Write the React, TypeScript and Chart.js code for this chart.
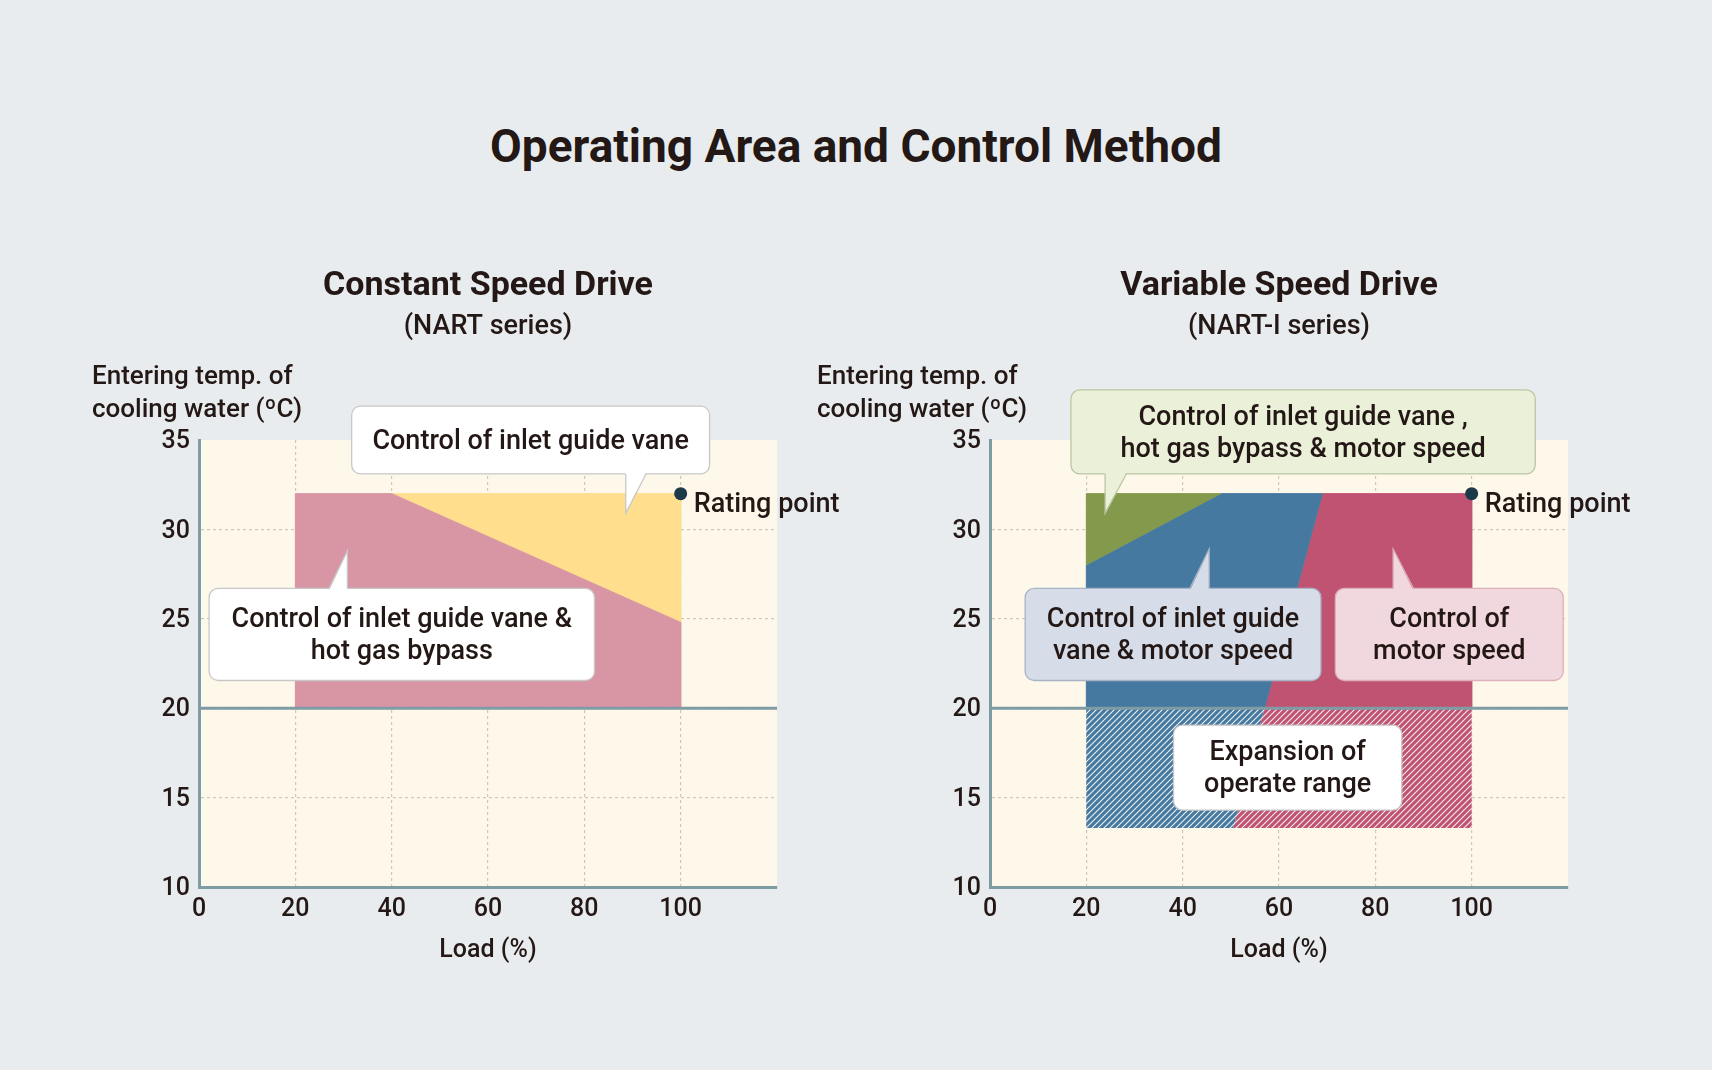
import React, { useEffect, useRef } from 'react';
import Chart from 'chart.js/auto';

const FONT = 'Roboto, "Noto Sans", sans-serif';
const INK = '#231815';
const AXIS = '#7f9ca4';
const GRID = '#cdc8b8';
const CREAM = '#fdf8ea';

// axes
const xTicks = [0, 20, 40, 60, 80, 100];
const yTicks = [10, 15, 20, 25, 30, 35];
const xMax = 120;
const baseTemp = 20;
const ratingPoint = [{ x: 100, y: 32 }];

type Pt = { x: number; y: number };

// constant speed drive (NART)
const csdVaneHotGas: Pt[] = [
  { x: 20, y: 20 }, { x: 20, y: 32 }, { x: 40, y: 32 }, { x: 100, y: 24.8 }, { x: 100, y: 20 },
];
const csdVane: Pt[] = [{ x: 40, y: 32 }, { x: 100, y: 32 }, { x: 100, y: 24.8 }];

// variable speed drive (NART-I)
const vsdAll: Pt[] = [{ x: 20, y: 28 }, { x: 20, y: 32 }, { x: 48, y: 32 }];
const vsdVaneMotor: Pt[] = [
  { x: 20, y: 20 }, { x: 20, y: 28 }, { x: 48, y: 32 }, { x: 69, y: 32 }, { x: 57, y: 20 },
];
const vsdMotor: Pt[] = [{ x: 69, y: 32 }, { x: 100, y: 32 }, { x: 100, y: 20 }, { x: 57, y: 20 }];
const vsdExpVane: Pt[] = [{ x: 20, y: 13.3 }, { x: 20, y: 20 }, { x: 57, y: 20 }, { x: 50.5, y: 13.3 }];
const vsdExpMotor: Pt[] = [{ x: 50.5, y: 13.3 }, { x: 57, y: 20 }, { x: 100, y: 20 }, { x: 100, y: 13.3 }];

type Callout = {
  lines: string[];
  x0: number; x1: number; top: number; bottom: number;
  fill: string; stroke: string;
  tail?: { from: number; to: number; tipX: number; tipY: number };
};

type Area = { data: Pt[]; color: string; hatch?: boolean };

type Panel = {
  title: string;
  subtitle: string;
  left: number;
  width: number;
  padding: { left: number; right: number };
  yLabelDx: number;
  areas: Area[];
  callouts: Callout[];
};

const panels: Panel[] = [
  {
    title: 'Constant Speed Drive',
    subtitle: '(NART series)',
    left: 0,
    width: 856,
    padding: { left: 139, right: 79 },
    yLabelDx: -107,
    areas: [
      { data: csdVaneHotGas, color: '#d895a4' },
      { data: csdVane, color: '#ffdf8e' },
    ],
    callouts: [
      {
        lines: ['Control of inlet guide vane'],
        x0: 31.7, x1: 106, top: 36.9, bottom: 33.1,
        fill: '#ffffff', stroke: '#c8c8c8',
        tail: { from: 88.6, to: 92.8, tipX: 88.6, tipY: 30.9 },
      },
      {
        lines: ['Control of inlet guide vane &', 'hot gas bypass'],
        x0: 2.1, x1: 82.1, top: 26.7, bottom: 21.55,
        fill: '#ffffff', stroke: '#c8c8c8',
        tail: { from: 27, to: 30.8, tipX: 30.8, tipY: 28.8 },
      },
    ],
  },
  {
    title: 'Variable Speed Drive',
    subtitle: '(NART-I series)',
    left: 780,
    width: 932,
    padding: { left: 150, right: 144 },
    yLabelDx: -173,
    areas: [
      { data: vsdAll, color: '#83994b' },
      { data: vsdVaneMotor, color: '#46799f' },
      { data: vsdMotor, color: '#c15372' },
      { data: vsdExpVane, color: '#46799f', hatch: true },
      { data: vsdExpMotor, color: '#c15372', hatch: true },
    ],
    callouts: [
      {
        lines: ['Control of inlet guide vane ,', 'hot gas bypass & motor speed'],
        x0: 16.8, x1: 113.2, top: 37.8, bottom: 33.1,
        fill: '#ebf0d8', stroke: '#bcc5a2',
        tail: { from: 23.9, to: 28.3, tipX: 23.9, tipY: 30.9 },
      },
      {
        lines: ['Control of inlet guide', 'vane & motor speed'],
        x0: 7.3, x1: 68.7, top: 26.7, bottom: 21.55,
        fill: '#d7dde8', stroke: '#a9b3c6',
        tail: { from: 41.5, to: 45.5, tipX: 45.5, tipY: 28.9 },
      },
      {
        lines: ['Control of', 'motor speed'],
        x0: 71.7, x1: 119, top: 26.7, bottom: 21.55,
        fill: '#f1d8de', stroke: '#dcb0ba',
        tail: { from: 83.7, to: 87.9, tipX: 83.7, tipY: 28.9 },
      },
      {
        lines: ['Expansion of', 'operate range'],
        x0: 38.1, x1: 85.5, top: 19.05, bottom: 14.3,
        fill: '#ffffff', stroke: '#c8c8c8',
      },
    ],
  },
];

function hatch(color: string) {
  const c = document.createElement('canvas');
  c.width = 6;
  c.height = 6;
  const g = c.getContext('2d')!;
  g.fillStyle = color;
  g.fillRect(0, 0, 6, 6);
  g.strokeStyle = 'rgba(255,255,255,0.9)';
  g.lineWidth = 1.1;
  g.beginPath();
  g.moveTo(0, 6); g.lineTo(6, 0);
  g.moveTo(-3, 3); g.lineTo(3, -3);
  g.moveTo(3, 9); g.lineTo(9, 3);
  g.stroke();
  return g.createPattern(c, 'repeat')!;
}

function drawCallout(chart: Chart, c: Callout) {
  const { ctx } = chart;
  const xs = chart.scales.x;
  const ys = chart.scales.y;
  const l = xs.getPixelForValue(c.x0);
  const r = xs.getPixelForValue(c.x1);
  const t = ys.getPixelForValue(c.top);
  const b = ys.getPixelForValue(c.bottom);
  ctx.save();
  ctx.beginPath();
  ctx.roundRect(l, t, r - l, b - t, 9);
  ctx.fillStyle = c.fill;
  ctx.fill();
  ctx.lineWidth = 1.3;
  ctx.strokeStyle = c.stroke;
  ctx.stroke();
  if (c.tail) {
    const a = xs.getPixelForValue(c.tail.from);
    const z = xs.getPixelForValue(c.tail.to);
    const tx = xs.getPixelForValue(c.tail.tipX);
    const ty = ys.getPixelForValue(c.tail.tipY);
    const edge = ty > b ? b : t;
    const inset = ty > b ? -2 : 2;
    ctx.beginPath();
    ctx.moveTo(a, edge + inset);
    ctx.lineTo(tx, ty);
    ctx.lineTo(z, edge + inset);
    ctx.closePath();
    ctx.fill();
    ctx.beginPath();
    ctx.moveTo(a, edge);
    ctx.lineTo(tx, ty);
    ctx.lineTo(z, edge);
    ctx.stroke();
  }
  ctx.fillStyle = INK;
  ctx.font = `500 27px ${FONT}`;
  ctx.textAlign = 'center';
  ctx.textBaseline = 'middle';
  const lh = 32;
  const cx = (l + r) / 2;
  const y0 = (t + b) / 2 + 2 - ((c.lines.length - 1) * lh) / 2;
  c.lines.forEach((s, i) => ctx.fillText(s, cx, y0 + i * lh));
  ctx.restore();
}

function makeDecor(p: Panel) {
  return {
    id: 'decor',
    beforeDraw(chart: Chart) {
      const { ctx, chartArea: a } = chart;
      ctx.save();
      ctx.fillStyle = CREAM;
      ctx.fillRect(a.left, a.top, a.right - a.left, a.bottom - a.top);
      ctx.restore();
    },
    afterDraw(chart: Chart) {
      const { ctx, chartArea: a } = chart;
      const cx = (a.left + a.right) / 2;
      ctx.save();
      ctx.fillStyle = INK;
      ctx.textAlign = 'center';
      ctx.textBaseline = 'middle';
      ctx.font = `700 34px ${FONT}`;
      ctx.fillText(p.title, cx, a.top - 154);
      ctx.font = `500 27px ${FONT}`;
      ctx.fillText(p.subtitle, cx, a.top - 113);
      ctx.textAlign = 'left';
      ctx.font = `500 26px ${FONT}`;
      ctx.fillText('Entering temp. of', a.left + p.yLabelDx, a.top - 63);
      ctx.fillText('cooling water (ºC)', a.left + p.yLabelDx, a.top - 30);

      // rating point label
      const meta = chart.getDatasetMeta(chart.data.datasets.length - 1);
      const pt = meta.data[0];
      ctx.font = `500 27px ${FONT}`;
      ctx.fillText('Rating point', pt.x + 13, pt.y + 12);
      ctx.restore();

      p.callouts.forEach((c) => drawCallout(chart, c));
    },
  };
}

function OperatingChart({ panel }: { panel: Panel }) {
  const ref = useRef<HTMLCanvasElement>(null);

  useEffect(() => {
    if (!ref.current) return;
    const tickFont = { family: FONT, size: 25, weight: 500 as const };
    const areaSets = panel.areas.map((ar) => ({
      data: ar.data,
      order: 2,
      showLine: true,
      fill: 'shape' as const,
      backgroundColor: ar.hatch ? hatch(ar.color) : ar.color,
      borderColor: ar.hatch ? 'rgba(0,0,0,0)' : ar.color,
      borderWidth: 1,
      pointRadius: 0,
      tension: 0,
    }));
    const chart = new Chart(ref.current, {
      type: 'scatter',
      data: {
        datasets: [
          ...areaSets,
          {
            data: [{ x: xTicks[0], y: baseTemp }, { x: xMax, y: baseTemp }],
            order: 1,
            showLine: true,
            fill: false,
            borderColor: AXIS,
            borderWidth: 3,
            pointRadius: 0,
          },
          {
            data: ratingPoint,
            order: 0,
            pointRadius: 6.5,
            pointBackgroundColor: '#1d3a4a',
            pointBorderWidth: 0,
          },
        ],
      } as any,
      options: {
        animation: false,
        responsive: true,
        maintainAspectRatio: false,
        layout: { padding: { left: panel.padding.left, right: panel.padding.right, top: 440, bottom: 103 } },
        plugins: { legend: { display: false }, tooltip: { enabled: false } },
        scales: {
          x: {
            type: 'linear',
            min: xTicks[0],
            max: xMax,
            afterBuildTicks: (s: any) => { s.ticks = xTicks.map((v) => ({ value: v })); },
            afterFit: (s: any) => { s.height = 80; },
            grid: {
              color: (c: any) => (c.tick && c.tick.value === xTicks[0] ? 'rgba(0,0,0,0)' : GRID),
              lineWidth: 1.2,
              drawTicks: false,
            },
            border: { color: AXIS, width: 3, dash: [3, 3] },
            ticks: { padding: 8, color: INK, font: tickFont, maxRotation: 0, autoSkip: false },
            title: { display: true, text: 'Load (%)', color: INK, font: tickFont, padding: { top: 0, bottom: 1 } },
          },
          y: {
            type: 'linear',
            min: yTicks[0],
            max: yTicks[yTicks.length - 1],
            afterBuildTicks: (s: any) => { s.ticks = yTicks.map((v) => ({ value: v })); },
            afterFit: (s: any) => { s.width = 60; },
            grid: {
              color: (c: any) =>
                c.tick && (c.tick.value === yTicks[0] || c.tick.value === yTicks[yTicks.length - 1])
                  ? 'rgba(0,0,0,0)'
                  : GRID,
              lineWidth: 1.2,
              drawTicks: false,
            },
            border: { color: AXIS, width: 3, dash: [3, 3] },
            ticks: { padding: 9, labelOffset: 2, color: INK, font: tickFont },
          },
        },
      } as any,
      plugins: [makeDecor(panel)],
    });
    return () => {
      chart.destroy();
    };
  }, [panel]);

  return (
    <div style={{ position: 'absolute', left: panel.left, top: 0, width: panel.width, height: 1070 }}>
      <canvas ref={ref}></canvas>
    </div>
  );
}

export default function App() {
  return (
    <div style={{ position: 'fixed', inset: 0, background: '#e9ecee', overflow: 'hidden' }}>
      <div
        style={{
          position: 'absolute',
          left: 856,
          top: 146,
          transform: 'translate(-50%, -50%)',
          whiteSpace: 'nowrap',
          fontFamily: FONT,
          fontWeight: 700,
          fontSize: 46,
          color: INK,
        }}
      >
        Operating Area and Control Method
      </div>
      {panels.map((p) => (
        <OperatingChart key={p.title} panel={p} />
      ))}
    </div>
  );
}
